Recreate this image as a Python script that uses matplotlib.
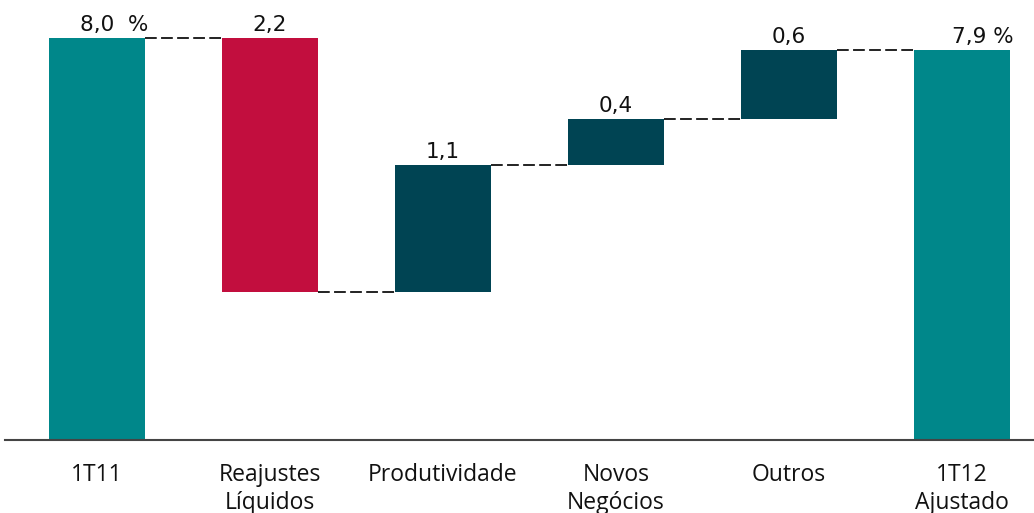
import matplotlib
matplotlib.use("Agg")
import matplotlib.pyplot as plt
import numpy as np

categories = ["1T11", "Reajustes\nLíquidos", "Produtividade", "Novos\nNegócios", "Outros", "1T12\nAjustado"]
values = [8.0, -2.2, 1.1, 0.4, 0.6, 7.9]
kinds = ["total", "delta", "delta", "delta", "delta", "total"]
value_labels = ["8,0  %", "2,2", "1,1", "0,4", "0,6", "7,9 %"]

c_total = "#00878A"
c_neg = "#C20E3E"
c_pos = "#004453"

fig = plt.figure(figsize=(10.34, 5.13), dpi=100)
ax = fig.add_axes([5/1034, (513-440)/513, 1-5/1034, 440/513])

ymin, ymax = 4.52, 4.52 + 440/115.5
x = np.arange(len(categories))
w = 0.555

bottoms, heights, colors, tops = [], [], [], []
running = 0.0
for v, k in zip(values, kinds):
    if k == "total":
        b, h = ymin, v - ymin
        running = v
        col = c_total
    else:
        new = running + v
        b = min(running, new)
        h = abs(v)
        col = c_pos if v > 0 else c_neg
        running = new
    bottoms.append(b); heights.append(h); colors.append(col); tops.append(b + h)

ax.bar(x, heights, bottom=bottoms, width=w, color=colors, zorder=2)

# connectors
running = 0.0
levels = []
for v, k in zip(values, kinds):
    running = v if k == "total" else running + v
    levels.append(running)
for i in range(len(values) - 1):
    ax.plot([x[i] + w/2, x[i+1] - w/2], [levels[i], levels[i]], color="#111111",
            lw=1.3, ls=(0, (6.5, 2.4)), zorder=1)

for i, lab in enumerate(value_labels):
    if kinds[i] == "total":
        ax.annotate(lab, (x[i] + w/2 + 0.02, tops[i]), xytext=(0, 2), textcoords="offset points",
                    ha="right", va="bottom", fontsize=15.5, family="DejaVu Sans", color="#111111")
    else:
        ax.annotate(lab, (x[i], tops[i]), xytext=(0, 2), textcoords="offset points",
                    ha="center", va="bottom", fontsize=15.5, family="DejaVu Sans", color="#111111")

ax.set_xlim(-0.529, 5.416)
ax.set_ylim(ymin, ymax)
ax.set_xticks(x)
ax.set_xticklabels(categories, fontsize=16.5, family=["Open Sans", "DejaVu Sans"],
                   linespacing=1.2, color="#111111")
ax.tick_params(axis="x", length=0, pad=16.5)
ax.set_yticks([])
for s in ["top", "right", "left"]:
    ax.spines[s].set_visible(False)
ax.spines["bottom"].set_color("#444444")
ax.spines["bottom"].set_linewidth(1.5)

fig.savefig("out.png", dpi=100)
